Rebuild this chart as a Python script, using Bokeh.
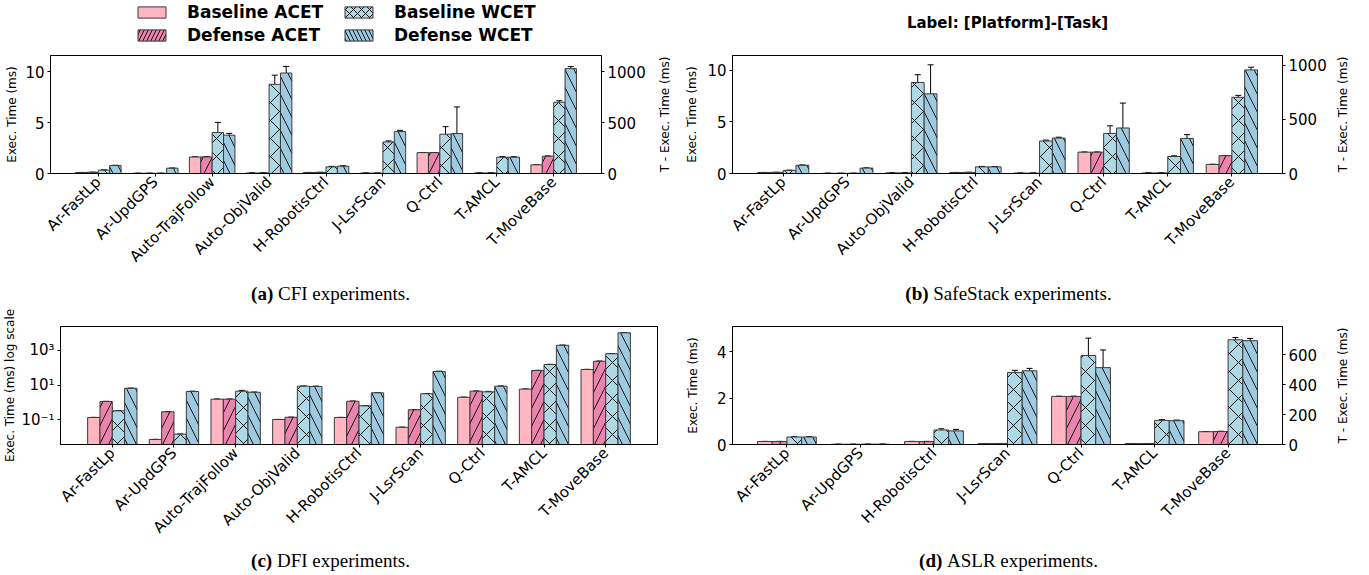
import math
from bokeh.plotting import figure
from bokeh.models import (Range1d, LinearAxis, FixedTicker, Legend, LegendItem,
                          Label, Whisker, TeeHead, ColumnDataSource)
from bokeh.layouts import row, column
from bokeh.embed import file_html
from bokeh.resources import INLINE

# ---------------- data ----------------
cats_a = ["Ar-FastLp", "Ar-UpdGPS", "Auto-TrajFollow", "Auto-ObjValid", "H-RobotisCtrl",
          "J-LsrScan", "Q-Ctrl", "T-AMCL", "T-MoveBase"]
a_base_acet = [0.10, 0.02, 1.62, 0.05, 0.10, 0.04, 2.05, 0.05, 0.85]
a_def_acet = [0.12, 0.02, 1.63, 0.06, 0.11, 0.04, 2.05, 0.06, 1.70]
a_base_wcet = [33, 2, 402, 876, 65, 310, 386, 160, 700]
a_def_wcet = [78, 52, 376, 987, 72, 412, 392, 160, 1030]
a_base_acet_err = [0.005, 0.002, 0.01, 0.003, 0.005, 0.002, 0.01, 0.003, 0.02]
a_def_acet_err = [0.005, 0.002, 0.01, 0.003, 0.005, 0.002, 0.01, 0.003, 0.02]
a_base_wcet_err = [2, 0.5, 100, 90, 5, 10, 74, 6, 15]
a_def_wcet_err = [3, 2, 18, 65, 4, 12, 262, 5, 20]

cats_b = ["Ar-FastLp", "Ar-UpdGPS", "Auto-ObjValid", "H-RobotisCtrl", "J-LsrScan",
          "Q-Ctrl", "T-AMCL", "T-MoveBase"]
b_base_acet = [0.10, 0.02, 0.06, 0.10, 0.04, 2.07, 0.05, 0.88]
b_def_acet = [0.11, 0.02, 0.06, 0.11, 0.04, 2.07, 0.06, 1.73]
b_base_wcet = [29, 2, 840, 61, 300, 370, 157, 703]
b_def_wcet = [76, 50, 735, 61, 327, 420, 324, 956]
b_base_acet_err = [0.005, 0.002, 0.003, 0.005, 0.002, 0.01, 0.003, 0.02]
b_def_acet_err = [0.005, 0.002, 0.003, 0.005, 0.002, 0.01, 0.003, 0.02]
b_base_wcet_err = [2, 0.5, 72, 4, 8, 70, 6, 18]
b_def_wcet_err = [3, 2, 268, 3, 8, 230, 35, 25]

cats_c = ["Ar-FastLp", "Ar-UpdGPS", "Auto-TrajFollow", "Auto-ObjValid", "H-RobotisCtrl",
          "J-LsrScan", "Q-Ctrl", "T-AMCL", "T-MoveBase"]
c_base_acet = [0.136, 0.0073, 1.55, 0.104, 0.136, 0.037, 2.0, 5.9, 80]
c_def_acet = [1.14, 0.29, 1.55, 0.14, 1.18, 0.38, 4.5, 70, 240]
c_base_wcet = [0.33, 0.0148, 4.5, 8.7, 0.64, 3.2, 4.1, 155, 650]
c_def_wcet = [6.6, 4.3, 3.9, 8.4, 3.6, 61, 8.7, 2000, 10500]
c_base_acet_err = [0.003, 0.0002, 0.02, 0.002, 0.003, 0.001, 0.03, 0.1, 2]
c_def_acet_err = [0.03, 0.01, 0.02, 0.003, 0.03, 0.01, 0.1, 2, 6]
c_base_wcet_err = [0.01, 0.0004, 0.5, 0.3, 0.02, 0.1, 0.3, 5, 20]
c_def_wcet_err = [0.2, 0.2, 0.1, 0.4, 0.1, 3, 0.3, 60, 400]

cats_d = ["Ar-FastLp", "Ar-UpdGPS", "H-RobotisCtrl", "J-LsrScan", "Q-Ctrl", "T-AMCL", "T-MoveBase"]
d_base_acet = [0.13, 0.01, 0.13, 0.04, 2.07, 0.04, 0.55]
d_def_acet = [0.13, 0.01, 0.13, 0.04, 2.07, 0.04, 0.56]
d_base_wcet = [50, 2, 97, 480, 594, 161, 699]
d_def_wcet = [50, 2, 91, 492, 513, 159, 693]
d_base_acet_err = [0.005, 0.001, 0.005, 0.002, 0.01, 0.002, 0.01]
d_def_acet_err = [0.005, 0.001, 0.005, 0.002, 0.01, 0.002, 0.01]
d_base_wcet_err = [2, 0.5, 8, 15, 116, 5, 15]
d_def_wcet_err = [2, 0.5, 10, 16, 118, 4, 15]

series_names = ["Baseline ACET", "Defense ACET", "Baseline WCET", "Defense WCET"]
captions = [("(a)", "CFI experiments."), ("(b)", "SafeStack experiments."),
            ("(c)", "DFI experiments."), ("(d)", "ASLR experiments.")]
plot_title = "Label: [Platform]-[Task]"
left_label = "Exec. Time (ms)"
log_label = "Exec. Time (ms) log scale"
right_label = "T - Exec. Time (ms)"

# ---------------- style ----------------
FONT = "DejaVu Sans"
SERIF = "Liberation Serif"
FILL = ["#FFB6C1", "#EA84AD", "#ADD8E6", "#9ECAE1"]
HATCH = [None, "/", "x", "\\"]
EDGE = "#3a3a3a"

TIMES_R = {" ": .25, ".": .25, "C": .667, "F": .556, "I": .333, "D": .722, "S": .556,
           "A": .722, "L": .611, "R": .667, "a": .444, "c": .444, "e": .444, "f": .333,
           "i": .278, "k": .5, "m": .778, "n": .5, "p": .5, "r": .333, "s": .389,
           "t": .278, "x": .5}
TIMES_B = {"(": .333, ")": .333, "a": .5, "b": .556, "c": .444, "d": .556}
CAP_SIZE = 19

H_STRIP, H_TOP, H_CAP1, H_BOT, H_CAP2 = 48, 230, 30, 237, 30


def tw(s, table, size):
    return sum(table.get(ch, 0.5) for ch in s) * size


def blank(width, height):
    p = figure(width=width, height=height, output_backend="svg", toolbar_location=None,
               x_range=Range1d(0, width), y_range=Range1d(0, height),
               x_axis_location=None, y_axis_location=None,
               min_border=0, min_border_left=0, min_border_right=0,
               min_border_top=0, min_border_bottom=0)
    p.xgrid.visible = False
    p.ygrid.visible = False
    p.outline_line_color = None
    p.background_fill_color = "white"
    p.border_fill_color = "white"
    return p


def side_label(width, height, top, bottom, standoff, text):
    """Narrow figure whose (tick-less) left axis carries a rotated label."""
    s = figure(width=width, height=height, output_backend="svg", toolbar_location=None,
               x_range=Range1d(0, 1), y_range=Range1d(0, 1), x_axis_location=None,
               min_border_left=width - 6, min_border_right=0,
               min_border_top=top, min_border_bottom=bottom)
    s.xgrid.visible = False
    s.ygrid.visible = False
    s.outline_line_color = None
    s.background_fill_color = "white"
    s.border_fill_color = "white"
    ax = s.yaxis[0]
    ax.ticker = FixedTicker(ticks=[])
    ax.axis_line_color = None
    ax.major_tick_line_color = None
    ax.minor_tick_line_color = None
    ax.major_tick_out = 0
    ax.major_label_standoff = 0
    ax.axis_label = text
    ax.axis_label_standoff = standoff
    ax.axis_label_text_font = FONT
    ax.axis_label_text_font_size = "12px"
    ax.axis_label_text_font_style = "normal"
    ax.axis_label_text_color = "black"
    return s


def make_panel(cats, vals, errs, width, height, borders, ylim, rlim, lticks, rticks,
               log=False, left_standoff=3):
    n = len(cats)
    pad = 0.05 * (n - 0.2)
    bl, br, bt, bb = borders
    kw = dict(width=width, height=height, output_backend="svg", toolbar_location=None,
              x_range=Range1d(-0.4 - pad, n - 1 + 0.4 + pad),
              y_range=Range1d(*ylim),
              min_border_left=bl, min_border_right=br, min_border_top=bt, min_border_bottom=bb,
              background_fill_color="white", border_fill_color="white")
    if log:
        kw["y_axis_type"] = "log"
    p = figure(**kw)
    p.xgrid.visible = False
    p.ygrid.visible = False
    p.outline_line_color = "black"
    p.outline_line_width = 1
    raxis = None
    if rlim is not None:
        p.extra_y_ranges = {"right": Range1d(*rlim)}
        raxis = LinearAxis(y_range_name="right")
        p.add_layout(raxis, "right")
    offsets = [-0.3, -0.1, 0.1, 0.3]
    bottom = 1e-5 if log else 0
    for k in range(4):
        xs = [i + offsets[k] for i in range(n)]
        v = vals[k]
        e = errs[k]
        src = ColumnDataSource(dict(x=xs, top=v,
                                    lower=[max(a - b, bottom) for a, b in zip(v, e)],
                                    upper=[a + b for a, b in zip(v, e)]))
        rng = "right" if (rlim is not None and k >= 2) else "default"
        p.vbar(x="x", top="top", bottom=bottom, width=0.2, source=src,
               fill_color=FILL[k], line_color=EDGE, line_width=1,
               hatch_pattern=HATCH[k], hatch_color="black", hatch_scale=18, hatch_weight=0.9,
               y_range_name=rng)
        wh = Whisker(source=src, base="x", lower="lower", upper="upper", dimension="height",
                     line_color="black", line_width=1, y_range_name=rng,
                     upper_head=TeeHead(size=6, line_color="black", line_width=1),
                     lower_head=TeeHead(size=6, line_color="black", line_width=1))
        p.add_layout(wh)
    xa = p.xaxis[0]
    ya = p.yaxis[0]
    ya.ticker = FixedTicker(ticks=lticks)
    ya.axis_label = log_label if log else left_label
    ya.axis_label_standoff = left_standoff
    if log:
        ya.major_label_overrides = {0.1: "10\u207b\u00b9", 10: "10\u00b9", 1000: "10\u00b3"}
    axes = [xa, ya] + ([raxis] if raxis is not None else [])
    for ax in axes:
        ax.axis_line_color = "black"
        ax.major_tick_line_color = "black"
        ax.major_tick_out = 3
        ax.major_tick_in = 0
        ax.minor_tick_line_color = None
        ax.major_label_standoff = 3
        ax.major_label_text_font = FONT
        ax.major_label_text_font_size = "15px"
        ax.major_label_text_color = "black"
        ax.axis_label_text_font = FONT
        ax.axis_label_text_font_size = "12px"
        ax.axis_label_text_font_style = "normal"
        ax.axis_label_text_color = "black"
    xa.ticker = FixedTicker(ticks=list(range(n)))
    xa.major_label_overrides = {i: c for i, c in enumerate(cats)}
    xa.major_label_orientation = math.pi / 4
    if raxis is not None:
        raxis.ticker = FixedTicker(ticks=rticks)
    return p


def caption_strip(width, height, idx, center, ymid):
    s = blank(width, height)
    bold, rest = captions[idx]
    wb = tw(bold, TIMES_B, CAP_SIZE)
    wsp = TIMES_R[" "] * CAP_SIZE
    wr = tw(rest, TIMES_R, CAP_SIZE)
    x0 = center - (wb + wsp + wr) / 2
    s.add_layout(Label(x=x0, y=ymid, text=bold,
                       text_font=SERIF, text_font_style="bold", text_font_size=f"{CAP_SIZE}px",
                       text_align="left", text_baseline="middle", text_color="black"))
    s.add_layout(Label(x=x0 + wb + wsp, y=ymid, text=rest,
                       text_font=SERIF, text_font_style="normal", text_font_size=f"{CAP_SIZE}px",
                       text_align="left", text_baseline="middle", text_color="black"))
    return s


# ---------------- panels ----------------
pa = make_panel(cats_a, [a_base_acet, a_def_acet, a_base_wcet, a_def_wcet],
                [a_base_acet_err, a_def_acet_err, a_base_wcet_err, a_def_wcet_err],
                652, H_TOP, (50, 51, 7, 105), (0, 11.59), (0, 1159), [0, 5, 10], [0, 500, 1000])
ra = side_label(28, H_TOP, 7, 105, 3, right_label)
pb = make_panel(cats_b, [b_base_acet, b_def_acet, b_base_wcet, b_def_wcet],
                [b_base_acet_err, b_def_acet_err, b_base_wcet_err, b_def_wcet_err],
                650, H_TOP, (52, 48, 7, 97), (0, 11.45), (0, 1089), [0, 5, 10], [0, 500, 1000],
                left_standoff=5)
rb = side_label(39, H_TOP, 7, 97, 14, right_label)
pc = make_panel(cats_c, [c_base_acet, c_def_acet, c_base_wcet, c_def_wcet],
                [c_base_acet_err, c_def_acet_err, c_base_wcet_err, c_def_wcet_err],
                680, H_BOT, (58, 23, 18, 101), (10 ** -2.425, 10 ** 4.385), None,
                [0.1, 10, 1000], None, log=True, left_standoff=1)
pd_ = make_panel(cats_d, [d_base_acet, d_def_acet, d_base_wcet, d_def_wcet],
                 [d_base_acet_err, d_def_acet_err, d_base_wcet_err, d_def_wcet_err],
                 650, H_BOT, (52, 48, 16, 95), (0, 5.08), (0, 787.5), [0, 2, 4],
                 [0, 200, 400, 600], left_standoff=14)
rd = side_label(39, H_BOT, 16, 95, 14, right_label)

# ---------------- legend strip ----------------
leg_fig = blank(680, H_STRIP)
leg_r = []
for k in range(4):
    src = ColumnDataSource(dict(x=[0], top=[0]))
    r = leg_fig.vbar(x="x", top="top", bottom=0, width=0, source=src,
                     fill_color=FILL[k], line_color=EDGE, line_width=1,
                     hatch_pattern=HATCH[k], hatch_color="black", hatch_scale=8, hatch_weight=0.9)
    r.visible = False
    leg_r.append(r)


def make_legend(items, loc):
    return Legend(items=items, location=loc, orientation="vertical",
                  label_text_font=FONT, label_text_font_style="bold", label_text_font_size="17px",
                  label_text_color="black", glyph_width=35, glyph_height=14, label_height=20,
                  label_standoff=18, spacing=3, padding=0, margin=0,
                  border_line_alpha=0, background_fill_alpha=0,
                  inactive_fill_alpha=0)


leg_fig.add_layout(make_legend([LegendItem(label=series_names[0], renderers=[leg_r[0]]),
                                LegendItem(label=series_names[1], renderers=[leg_r[1]])], (134, 3)))
leg_fig.add_layout(make_legend([LegendItem(label=series_names[2], renderers=[leg_r[2]]),
                                LegendItem(label=series_names[3], renderers=[leg_r[3]])], (341, 3)))

title_fig = blank(689, H_STRIP)
title_fig.add_layout(Label(x=327, y=H_STRIP - 22, text=plot_title,
                           text_font=FONT, text_font_style="bold", text_font_size="15px",
                           text_align="center", text_baseline="middle", text_color="black"))

cap_a = caption_strip(680, H_CAP1, 0, 330, 15)
cap_b = caption_strip(689, H_CAP1, 1, 1008 - 680, 15)
cap_c = caption_strip(680, H_CAP2, 2, 330, 15)
cap_d = caption_strip(689, H_CAP2, 3, 1008 - 680, 15)

layout = column(row(leg_fig, title_fig), row(pa, ra, pb, rb), row(cap_a, cap_b),
                row(pc, pd_, rd), row(cap_c, cap_d))
open("out.html", "w").write(file_html(layout, INLINE))
